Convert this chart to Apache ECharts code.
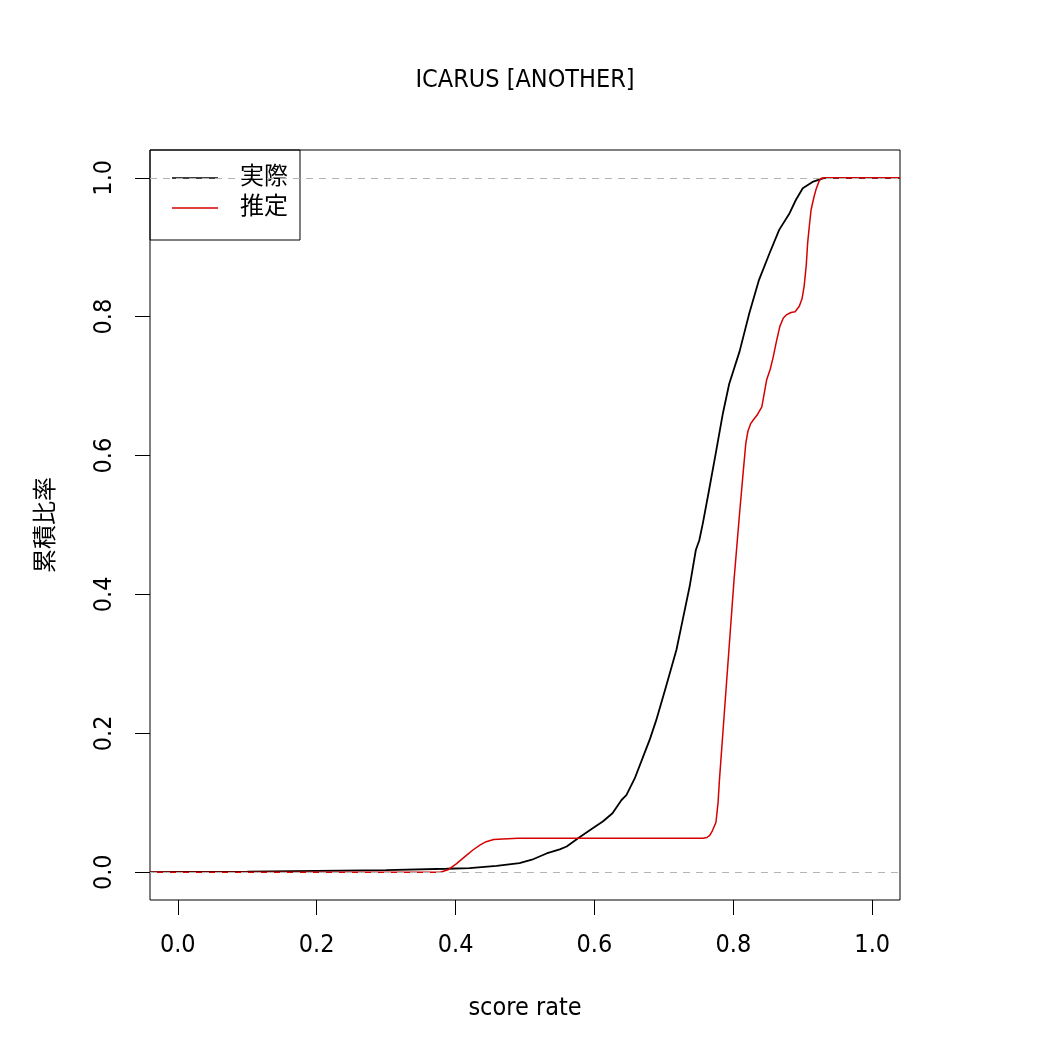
<!DOCTYPE html>
<html>
<head>
<meta charset="utf-8">
<script src="https://cdn.jsdelivr.net/npm/echarts@6/dist/echarts.min.js"></script>
<style>html,body{margin:0;padding:0;background:#fff}#c{width:1050px;height:1050px}</style>
</head>
<body>
<div id="c"></div>
<script>
const titleText = 'ICARUS [ANOTHER]';
const xName = 'score rate';
const yName = '累積比率';
const seriesNames = ['実際', '推定'];
const tickValues = [0, 0.2, 0.4, 0.6, 0.8, 1.0];
const refLines = [0, 1];

// 実際 (empirical cumulative ratio): [score rate, cumulative ratio]
const actualX = [-0.04, 0.0, 0.1, 0.2, 0.3, 0.387, 0.42, 0.459, 0.492, 0.51, 0.531, 0.55, 0.56, 0.578, 0.597, 0.612, 0.626, 0.639, 0.646, 0.658, 0.670, 0.680, 0.689, 0.703, 0.718, 0.727, 0.737, 0.746, 0.751, 0.756, 0.765, 0.775, 0.785, 0.794, 0.809, 0.823, 0.837, 0.852, 0.866, 0.881, 0.890, 0.900, 0.914, 0.929, 0.935, 1.04];
const actualY = [0, 0.0005, 0.001, 0.002, 0.003, 0.005, 0.006, 0.009, 0.013, 0.018, 0.027, 0.033, 0.037, 0.050, 0.063, 0.073, 0.085, 0.104, 0.111, 0.135, 0.166, 0.192, 0.219, 0.267, 0.320, 0.363, 0.411, 0.464, 0.478, 0.502, 0.550, 0.605, 0.661, 0.703, 0.750, 0.805, 0.853, 0.891, 0.925, 0.949, 0.968, 0.985, 0.994, 0.999, 1.0, 1.0];

// 推定 (estimated cumulative ratio)
const estX = [-0.04, 0.378, 0.39, 0.401, 0.413, 0.425, 0.435, 0.444, 0.455, 0.468, 0.49, 0.756, 0.762, 0.766, 0.770, 0.775, 0.778, 0.780, 0.787, 0.794, 0.801, 0.809, 0.814, 0.818, 0.821, 0.825, 0.830, 0.834, 0.841, 0.848, 0.853, 0.857, 0.862, 0.867, 0.872, 0.877, 0.883, 0.889, 0.895, 0.899, 0.902, 0.905, 0.907, 0.910, 0.912, 0.916, 0.919, 0.923, 0.926, 0.932, 1.04];
const estY = [0, 0, 0.004, 0.012, 0.022, 0.032, 0.039, 0.044, 0.047, 0.048, 0.049, 0.049, 0.050, 0.053, 0.060, 0.072, 0.100, 0.133, 0.229, 0.325, 0.421, 0.517, 0.574, 0.618, 0.635, 0.646, 0.653, 0.658, 0.670, 0.709, 0.724, 0.740, 0.764, 0.786, 0.798, 0.803, 0.806, 0.807, 0.815, 0.826, 0.844, 0.874, 0.906, 0.936, 0.954, 0.972, 0.983, 0.994, 0.999, 1.0, 1.0];

const FONT = '"Liberation Sans Narrow", "DejaVu Sans Condensed", "Noto Sans CJK JP", sans-serif';
const pair = (xs, ys) => xs.map((x, i) => [x, ys[i]]);

const chart = echarts.init(document.getElementById('c'), null, {renderer: 'canvas'});
chart.setOption({
  animation: false,
  backgroundColor: '#fff',
  title: {
    text: titleText, left: 'center', top: 63,
    textStyle: {fontFamily: FONT, fontSize: 25, fontWeight: 'normal', color: '#000'}
  },
  legend: {
    orient: 'vertical', left: 150, top: 150,
    data: seriesNames,
    icon: 'rect', itemWidth: 46, itemHeight: 1.5, itemGap: 6,
    padding: [16, 12, 20, 22],
    borderColor: '#000', borderWidth: 1, borderRadius: 0,
    textStyle: {fontFamily: FONT, fontSize: 24, lineHeight: 24, color: '#000', padding: [0, 0, 0, 17]}
  },
  grid: {left: 150, right: 150, top: 150, bottom: 150, show: true, borderColor: '#000', borderWidth: 1, backgroundColor: 'transparent'},
  xAxis: {
    type: 'value', min: -0.04, max: 1.04,
    name: xName, nameLocation: 'middle', nameGap: 96,
    nameTextStyle: {fontFamily: FONT, fontSize: 25, color: '#000'},
    axisLine: {show: false, onZero: false},
    splitLine: {show: false},
    axisTick: {show: true, length: 15, customValues: tickValues, lineStyle: {color: '#000', width: 1}},
    axisLabel: {customValues: tickValues, margin: 33, fontFamily: FONT, fontSize: 25, color: '#000',
      formatter: v => v.toFixed(1)}
  },
  yAxis: {
    type: 'value', min: -0.04, max: 1.04,
    name: yName, nameLocation: 'middle', nameGap: 91,
    nameTextStyle: {fontFamily: FONT, fontSize: 24, color: '#000'},
    axisLine: {show: false, onZero: false},
    splitLine: {show: false},
    axisTick: {show: true, length: 15, customValues: tickValues, lineStyle: {color: '#000', width: 1}},
    axisLabel: {customValues: tickValues, rotate: 90, margin: 33, fontFamily: FONT, fontSize: 25, color: '#000',
      formatter: v => v.toFixed(1)}
  },
  series: [
    {
      name: seriesNames[0], type: 'line', data: pair(actualX, actualY),
      showSymbol: false, smooth: false, color: '#000',
      lineStyle: {color: '#000', width: 1.8}, z: 2
    },
    {
      name: seriesNames[1], type: 'line', data: pair(estX, estY),
      showSymbol: false, smooth: false, color: '#d60000',
      lineStyle: {color: '#d60000', width: 1.5}, z: 3
    },
    {
      name: 'ref', type: 'line', data: [], z: 4,
      markLine: {
        silent: true, symbol: ['none', 'none'], animation: false,
        label: {show: false},
        lineStyle: {color: '#b4b4b4', type: [7, 6], width: 1.2},
        data: refLines.map(v => ({yAxis: v}))
      }
    }
  ]
});
</script>
</body>
</html>
